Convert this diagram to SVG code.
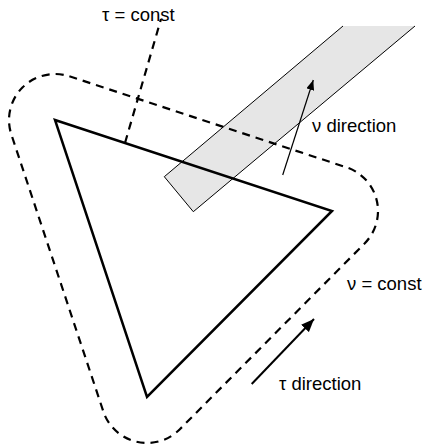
<svg xmlns="http://www.w3.org/2000/svg" width="424" height="445" viewBox="0 0 424 445">
<style>
.lbl{font-family:"Liberation Sans",Arial,sans-serif;font-size:18.5px;fill:#000}
.dash{fill:none;stroke:#000;stroke-width:2.2;stroke-dasharray:8 6}
</style>
<defs>
<marker id="ah" viewBox="0 0 10 8" refX="10" refY="4" markerWidth="10" markerHeight="8" markerUnits="userSpaceOnUse" orient="auto">
<path d="M0,0 L10,4 L0,8 Z" fill="#000"/>
</marker>
<marker id="ah2" viewBox="0 0 12 10" refX="12" refY="5" markerWidth="13" markerHeight="11" markerUnits="userSpaceOnUse" orient="auto">
<path d="M0,0 L12,5 L0,10 Z" fill="#000"/>
</marker>
</defs>
<g id="band">
<polygon points="164.3,176.7 193.3,211.7 415,26 343,26" fill="#e6e6e6" stroke="none"/>
<polyline points="343,26 164.3,176.7 193.3,211.7 415,26" fill="none" stroke="#000" stroke-width="1"/>
</g>
<g id="triangle">
<polygon points="55,120 332,211 147,397" fill="none" stroke="#000" stroke-width="2.5" stroke-linejoin="miter"/>
</g>
<g id="nu-const-curve">
<path class="dash" d="M69.36,76.30 L346.36,167.30 A46,46 0 0 1 364.61,243.44 L179.61,429.44 A46,46 0 0 1 103.35,411.50 L11.35,134.50 A46,46 0 0 1 69.36,76.30 Z"/>
</g>
<g id="connectors">
<line class="dash" x1="125" y1="143" x2="161" y2="19"/>
<line x1="282.7" y1="175" x2="313.3" y2="80" stroke="#000" stroke-width="1.2" marker-end="url(#ah)"/>
<line x1="251.7" y1="384" x2="314" y2="319" stroke="#000" stroke-width="2" marker-end="url(#ah2)"/>
</g>
<g id="labels">
<text class="lbl" x="102" y="20.5">τ = const</text>
<text class="lbl" x="312" y="132">ν direction</text>
<text class="lbl" x="347" y="290">ν = const</text>
<text class="lbl" x="279" y="390">τ direction</text>
</g>
</svg>
